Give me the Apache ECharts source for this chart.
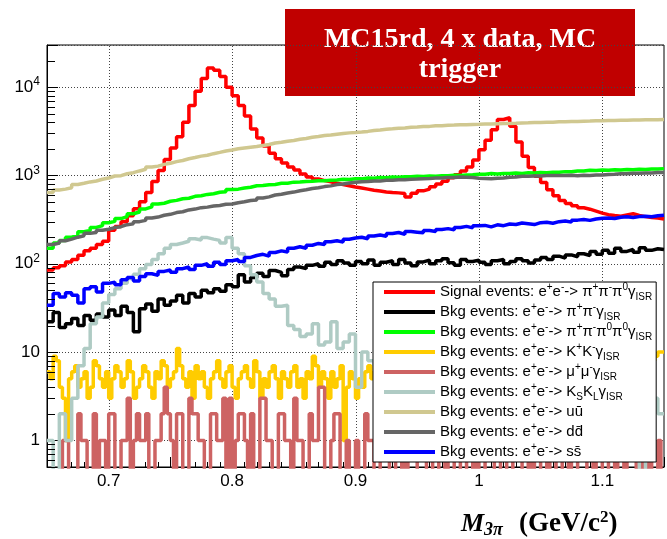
<!DOCTYPE html>
<html>
<head>
<meta charset="utf-8">
<title>M3pi</title>
<script src="https://cdn.jsdelivr.net/npm/echarts@6/dist/echarts.min.js"></script>
<style>
html,body{margin:0;padding:0;background:#fff;}
#mydiv{width:667px;height:539px;}
</style>
</head>
<body>
<div id="mydiv"></div>
<script>
// binning of the histograms (GeV/c^2)
var binLo = 0.65;
var binHi = 1.15;
// 100 bins (5 MeV) for the smooth samples, 200 bins (2.5 MeV) for the low-statistics ones

// bin contents
var sigVals = [
	85, 90, 95, 105, 112, 125, 140, 150, 165, 180,
	240, 265, 300, 350, 420, 505, 640, 855, 1140, 1520,
	2050, 2750, 4000, 6200, 9000, 12500, 16500, 15500, 13200, 10000,
	8000, 6200, 4700, 3350, 2650, 2150, 1780, 1550, 1380, 1250,
	1150, 1040, 960, 910, 875, 850, 815, 790, 765, 740,
	720, 700, 680, 665, 650, 640, 635, 625, 570, 630,
	670, 700, 745, 800, 860, 940, 1020, 1120, 1250, 1500,
	1950, 2500, 3300, 4300, 4500, 3600, 2400, 1650, 1230, 980,
	830, 690, 590, 520, 480, 455, 430, 415, 395, 375,
	360, 352, 345, 358, 368, 352, 342, 335, 330, 322
];
var pipigVals = [
	22, 28, 19, 21, 24, 20, 26, 23, 27, 25,
	30, 26, 33, 28, 17, 31, 35, 29, 40, 34,
	38, 44, 36, 46, 42, 50, 47, 52, 49, 58,
	55, 75, 62, 70, 78, 72, 84, 80, 73, 86,
	92, 88, 96, 100, 94, 104, 98, 108, 102, 96,
	106, 100, 110, 96, 104, 108, 98, 112, 102, 95,
	105, 110, 100, 108, 114, 103, 96, 112, 106, 110,
	104, 98, 108, 112, 100, 106, 114, 108, 102, 110,
	118, 112, 122, 116, 126, 120, 130, 124, 138, 128,
	142, 132, 150, 138, 145, 135, 152, 142, 148, 145
];
var pi4gVals = [
	150, 172, 183, 200, 210, 230, 238, 258, 270, 292,
	302, 325, 342, 368, 386, 418, 440, 474, 485, 510,
	522, 545, 552, 580, 588, 610, 622, 645, 655, 695,
	700, 720, 735, 765, 768, 785, 790, 815, 818, 840,
	842, 855, 858, 872, 870, 885, 888, 905, 900, 918,
	915, 935, 930, 950, 945, 962, 955, 970, 965, 980,
	975, 985, 980, 995, 990, 1005, 1000, 1015, 1018, 1035,
	1030, 1050, 1038, 1055, 1050, 1065, 1055, 1070, 1066, 1080,
	1075, 1090, 1085, 1105, 1100, 1125, 1122, 1145, 1135, 1150,
	1145, 1160, 1155, 1170, 1158, 1178, 1170, 1185, 1180, 1195
];
// 200 fine bins
var kkgVals = [
	6, 5, 9, 8, 4, 3, 1, 5, 6, 7, 4, 5, 6, 3, 4, 8, 7, 5, 4, 6,
	3, 5, 7, 6, 4, 5, 8, 6, 3, 4, 5, 7, 6, 4, 3, 6, 5, 8, 7, 4,
	5, 6, 11, 7, 5, 4, 6, 3, 7, 5, 6, 4, 3, 5, 6, 8, 5, 4, 6, 7,
	4, 3, 5, 6, 7, 5, 4, 8, 6, 3, 5, 4, 6, 7, 5, 3, 6, 5, 4, 6,
	7, 4, 5, 3, 6, 5, 9, 7, 4, 6, 5, 3, 6, 4, 5, 7, 1, 4, 6, 5,
	3, 5, 4, 6, 7, 5, 6, 4, 3, 5, 6, 7, 4, 5, 3, 6, 5, 7, 6, 4,
	5, 4, 6, 7, 8, 5, 3, 4, 6, 5, 7, 6, 4, 5, 6, 3, 5, 7, 4, 6,
	5, 6, 4, 7, 3, 5, 6, 4, 5, 7, 6, 5, 4, 6, 8, 5, 3, 6, 5, 7,
	4, 6, 5, 3, 6, 7, 5, 4, 6, 5, 3, 7, 6, 4, 5, 6, 7, 5, 4, 6,
	5, 7, 6, 4, 8, 5, 6, 7, 4, 6, 5, 8, 6, 7, 9, 6, 8, 9, 10, 10
];
// 200 fine bins
var mumugVals = [
	0, 0, 0, 0, 0, 1, 1, 0, 0, 0, 2, 1, 1, 0, 0, 2, 0, 1, 1, 0,
	2, 2, 0, 0, 1, 1, 3, 0, 1, 2, 1, 1, 2, 0, 0, 1, 1, 2, 4, 2,
	1, 0, 2, 2, 0, 0, 3, 2, 2, 1, 1, 0, 0, 2, 2, 1, 1, 3, 0, 3,
	0, 1, 2, 2, 1, 0, 2, 0, 0, 3, 3, 1, 1, 0, 0, 2, 2, 1, 1, 0,
	3, 1, 1, 0, 0, 2, 1, 1, 4, 4, 0, 0, 1, 2, 2, 0, 0, 1, 0, 0,
	1, 0, 0, 2, 1, 1, 0, 0, 1, 1, 2, 0, 0, 1, 2, 0, 1, 0, 0, 0,
	2, 1, 1, 0, 0, 1, 1, 0, 0, 2, 0, 0, 1, 1, 0, 0, 1, 1, 0, 1,
	0, 0, 2, 1, 1, 0, 0, 1, 1, 0, 0, 1, 2, 2, 0, 0, 1, 0, 1, 1,
	0, 0, 1, 0, 0, 2, 2, 0, 0, 1, 0, 0, 1, 1, 2, 0, 0, 1, 0, 0,
	1, 1, 0, 0, 1, 0, 0, 2, 0, 0, 0, 1, 1, 0, 0, 1, 0, 0, 1, 0
];
var ksklgVals = [
	1, 0, 2, 1, 3, 7, 11, 21, 25, 36,
	45, 52, 60, 68, 76, 88, 98, 112, 130, 150,
	165, 172, 180, 192, 186, 198, 190, 184, 172, 198,
	150, 130, 95, 75, 62, 46, 40, 33, 34, 20,
	18, 15, 16, 21, 12, 13, 22, 11, 13, 16,
	4, 10, 8, 7, 6, 8, 5, 6, 7, 5,
	6, 5, 4, 6, 5, 4, 5, 6, 4, 5,
	4, 5, 3, 4, 5, 3, 4, 4, 3, 5,
	3, 4, 3, 5, 3, 4, 2, 3, 4, 3,
	3, 2, 4, 3, 2, 3, 0, 2, 3, 2
];
var uuVals = [
	640, 685, 700, 725, 790, 815, 845, 865, 905, 935,
	985, 995, 1045, 1075, 1125, 1175, 1245, 1275, 1335, 1375,
	1435, 1475, 1545, 1595, 1655, 1695, 1765, 1825, 1895, 1945,
	2005, 2045, 2085, 2125, 2185, 2245, 2335, 2375, 2445, 2485,
	2565, 2625, 2705, 2755, 2835, 2875, 2935, 2985, 3035, 3065,
	3105, 3155, 3225, 3275, 3335, 3375, 3425, 3455, 3505, 3535,
	3585, 3595, 3645, 3655, 3705, 3715, 3755, 3755, 3785, 3795,
	3815, 3825, 3855, 3865, 3885, 3895, 3935, 3945, 3975, 3985,
	4005, 4015, 4045, 4055, 4085, 4095, 4115, 4125, 4155, 4155,
	4185, 4195, 4215, 4225, 4245, 4245, 4265, 4265, 4285, 4290
];
var ddVals = [
	165, 172, 182, 190, 200, 208, 222, 226, 240, 246,
	257, 263, 277, 283, 300, 310, 330, 338, 354, 363,
	380, 388, 407, 416, 432, 438, 452, 458, 472, 476,
	492, 503, 520, 528, 557, 572, 600, 612, 632, 648,
	672, 688, 712, 725, 748, 762, 788, 802, 822, 838,
	850, 853, 865, 868, 880, 882, 892, 896, 908, 910,
	920, 922, 933, 935, 948, 947, 960, 957, 948, 928,
	922, 915, 928, 938, 952, 958, 978, 978, 988, 988,
	998, 998, 1000, 998, 1005, 992, 1003, 1002, 1012, 1013,
	1028, 1032, 1048, 1045, 1058, 1057, 1068, 1067, 1080, 1083
];
var ssVals = [
	34, 46, 42, 47, 44, 36, 52, 55, 48, 60,
	62, 58, 66, 70, 64, 72, 77, 74, 82, 85,
	80, 88, 92, 86, 96, 100, 94, 104, 98, 108,
	112, 106, 118, 124, 128, 122, 134, 140, 136, 150,
	156, 150, 162, 170, 165, 178, 182, 176, 190, 196,
	200, 192, 206, 212, 205, 220, 226, 215, 232, 228,
	224, 238, 232, 245, 250, 242, 258, 265, 255, 270,
	272, 262, 276, 270, 282, 278, 290, 284, 278, 292,
	296, 288, 300, 305, 296, 312, 318, 310, 322, 328,
	330, 325, 336, 340, 334, 342, 346, 340, 350, 354
];

var allVals = [sigVals, pipigVals, pi4gVals, kkgVals, mumugVals, ksklgVals, uuVals, ddVals, ssVals];
var seriesNames = ['sig', 'pipig', 'pi4g', 'kkg', 'mumug', 'ksklg', 'uu', 'dd', 'ss'];
var seriesColors = ['#ff0000', '#000000', '#00ff00', '#ffcc00', '#cd6363', '#afcbc4', '#d0c890', '#666666', '#0000ff'];
var legendLabels = [
	'Signal events: e{sp|+}e{sp|-}-> π{sp|+}π{sp|-}π{sp|0}γ{sb|ISR}',
	'Bkg events: e{sp|+}e{sp|-}-> π{sp|+}π{sp|-}γ{sb|ISR}',
	'Bkg events: e{sp|+}e{sp|-}-> π{sp|+}π{sp|-}π{sp|0}π{sp|0}γ{sb|ISR}',
	'Bkg events: e{sp|+}e{sp|-}-> K{sp|+}K{sp|-}γ{sb|ISR}',
	'Bkg events: e{sp|+}e{sp|-}-> μ{sp|+}μ{sp|-}γ{sb|ISR}',
	'Bkg events: e{sp|+}e{sp|-}-> K{sb|S}K{sb|L}γ{sb|ISR}',
	'Bkg events: e{sp|+}e{sp|-}-> u\u016b',
	'Bkg events: e{sp|+}e{sp|-}-> dd\u0304',
	'Bkg events: e{sp|+}e{sp|-}-> ss\u0304'
];

// axis ranges and decorations
var xMin = 0.65, xMax = 1.15;
var yMin = 0.5, yMax = 30000;
var xGridLines = [0.7, 0.8, 0.9, 1.0, 1.1];
var yMinorTicks = [];
for (var k = -1; k <= 4; k++) {
	for (var m = 2; m <= 9; m++) {
		var t = m * Math.pow(10, k);
		if (t >= yMin && t <= yMax) yMinorTicks.push(t);
	}
}

//1、获得组件
var mydiv = document.getElementById('mydiv');
var chart = echarts.init(mydiv);

//2、把每个直方图变成阶梯折线
function histData(vals) {
	var w = (binHi - binLo) / vals.length;
	var d = [];
	for (var i = 0; i < vals.length; i++) {
		// empty bins go below the axis
		d.push([binLo + i * w, vals[i] > 0 ? vals[i] : 0.01]);
	}
	d.push([binHi, vals[vals.length - 1] > 0 ? vals[vals.length - 1] : 0.01]);
	return d;
}

var series = [];
// dotted vertical grid lines
series.push({
	type: 'custom',
	name: 'vgrid',
	z: 1,
	silent: true,
	data: xGridLines.map(function (x) { return [x, 1]; }),
	renderItem: function (params, api) {
		var p1 = api.coord([api.value(0), yMin]);
		var p2 = api.coord([api.value(0), yMax]);
		return {
			type: 'line',
			shape: { x1: Math.round(p1[0]) + 0.5, y1: p1[1], x2: Math.round(p2[0]) + 0.5, y2: p2[1] },
			style: { stroke: '#444', lineWidth: 1, lineDash: [1, 2] }
		};
	}
});
for (var s = 0; s < allVals.length; s++) {
	series.push({
		name: seriesNames[s],
		type: 'line',
		step: 'end',
		showSymbol: false,
		symbol: 'none',
		clip: true,
		z: 2,
		color: seriesColors[s],
		lineStyle: { width: 3.5, color: seriesColors[s] },
		data: histData(allVals[s])
	});
}
// log minor ticks on the left axis
series.push({
	type: 'custom',
	name: 'yminor',
	z: 5,
	silent: true,
	data: yMinorTicks.map(function (v) { return [xMin, v]; }),
	renderItem: function (params, api) {
		var p = api.coord([xMin, api.value(1)]);
		var y = Math.round(p[1]) + 0.5;
		return {
			type: 'line',
			shape: { x1: p[0], y1: y, x2: p[0] + 8, y2: y },
			style: { stroke: '#000', lineWidth: 1 }
		};
	}
});

//3、设置图表的属性
var option = {
	animation: false,
	backgroundColor: '#fff',
	grid: {
		left: 47, top: 45, right: -3, bottom: 72,
		show: true, borderColor: '#000', borderWidth: 1, backgroundColor: 'transparent'
	},
	legend: {
		orient: 'vertical',
		left: 373, top: 282,
		data: seriesNames,
		selectedMode: false,
		backgroundColor: '#fff',
		borderColor: '#000',
		borderWidth: 1,
		borderRadius: 0,
		padding: [0, 4, 0, 11],
		itemGap: 0,
		itemWidth: 51,
		itemHeight: 4,
		itemStyle: { borderWidth: 0 },
		icon: 'rect',
		z: 20,
		formatter: function (name) {
			return legendLabels[seriesNames.indexOf(name)];
		},
		textStyle: {
			fontFamily: 'Liberation Sans',
			fontSize: 15,
			color: '#000',
			lineHeight: 20,
			rich: {
				sp: { fontSize: 10, fontFamily: 'Liberation Sans', color: '#000', verticalAlign: 'top', lineHeight: 10 },
				sb: { fontSize: 10, fontFamily: 'Liberation Sans', color: '#000', verticalAlign: 'bottom', lineHeight: 8 }
			}
		}
	},
	xAxis: {
		type: 'value',
		min: xMin, max: xMax, interval: 0.05,
		axisLine: { show: true, lineStyle: { color: '#000', width: 1 } },
		axisTick: { inside: true, length: 10, lineStyle: { color: '#000' } },
		minorTick: { show: true, splitNumber: 5, length: 5, lineStyle: { color: '#000' } },
		splitLine: { show: false },
		axisLabel: {
			margin: 6,
			fontFamily: 'Liberation Sans', fontSize: 17, color: '#000',
			formatter: function (v) {
				var r = Math.round(v * 100);
				if (r % 10 !== 0) return '';
				return String(r / 100);
			}
		}
	},
	yAxis: {
		type: 'log', logBase: 10,
		min: yMin, max: yMax,
		axisLine: { show: true, lineStyle: { color: '#000', width: 1 } },
		axisTick: { inside: true, length: 11, lineStyle: { color: '#000' } },
		splitLine: { show: true, lineStyle: { color: '#444', width: 1, type: [1, 2] } },
		axisLabel: {
			margin: 7,
			fontFamily: 'Liberation Sans', fontSize: 17, color: '#000', lineHeight: 22,
			formatter: function (v) {
				var e = Math.log(v) / Math.LN10;
				var r = Math.round(e);
				if (Math.abs(e - r) > 1e-6) return '';
				if (r === 0) return '1';
				if (r === 1) return '10';
				return '10{sup|' + r + '}';
			},
			rich: {
				sup: { fontSize: 12, fontFamily: 'Liberation Sans', color: '#000', verticalAlign: 'top', lineHeight: 12 }
			}
		}
	},
	graphic: [
		{
			type: 'group', z: 100,
			children: [
				{ type: 'rect', shape: { x: 285, y: 9, width: 350, height: 87 }, style: { fill: '#c00000' } },
				{
					type: 'text', x: 460, y: 55,
					style: {
						text: 'MC15rd, 4 x data, MC\ntrigger',
						fill: '#fff',
						font: 'bold 28px "Liberation Serif"',
						align: 'center', verticalAlign: 'middle', lineHeight: 30
					}
				}
			]
		},
		{
			type: 'text', z: 100, x: 461, y: 524,
			style: {
				text: '{m|M}{sb|3π}{g| }{t|(GeV/c}{sp|2}{t|)}',
				align: 'left', verticalAlign: 'middle',
				rich: {
					m: { fontSize: 26, fontFamily: 'Liberation Serif', fontWeight: 'bold', fontStyle: 'italic', fill: '#000', lineHeight: 30 },
					sb: { fontSize: 18, fontFamily: 'Liberation Serif', fontWeight: 'bold', fontStyle: 'italic', fill: '#000', verticalAlign: 'bottom', lineHeight: 18 },
					g: { fontSize: 10, width: 16, lineHeight: 10 },
					t: { fontSize: 27, fontFamily: 'Liberation Serif', fontWeight: 'bold', fill: '#000', lineHeight: 30 },
					sp: { fontSize: 17, fontFamily: 'Liberation Serif', fontWeight: 'bold', fill: '#000', verticalAlign: 'top', lineHeight: 16 }
				}
			}
		}
	],
	series: series
};

//4、关联
chart.setOption(option);
</script>
</body>
</html>
